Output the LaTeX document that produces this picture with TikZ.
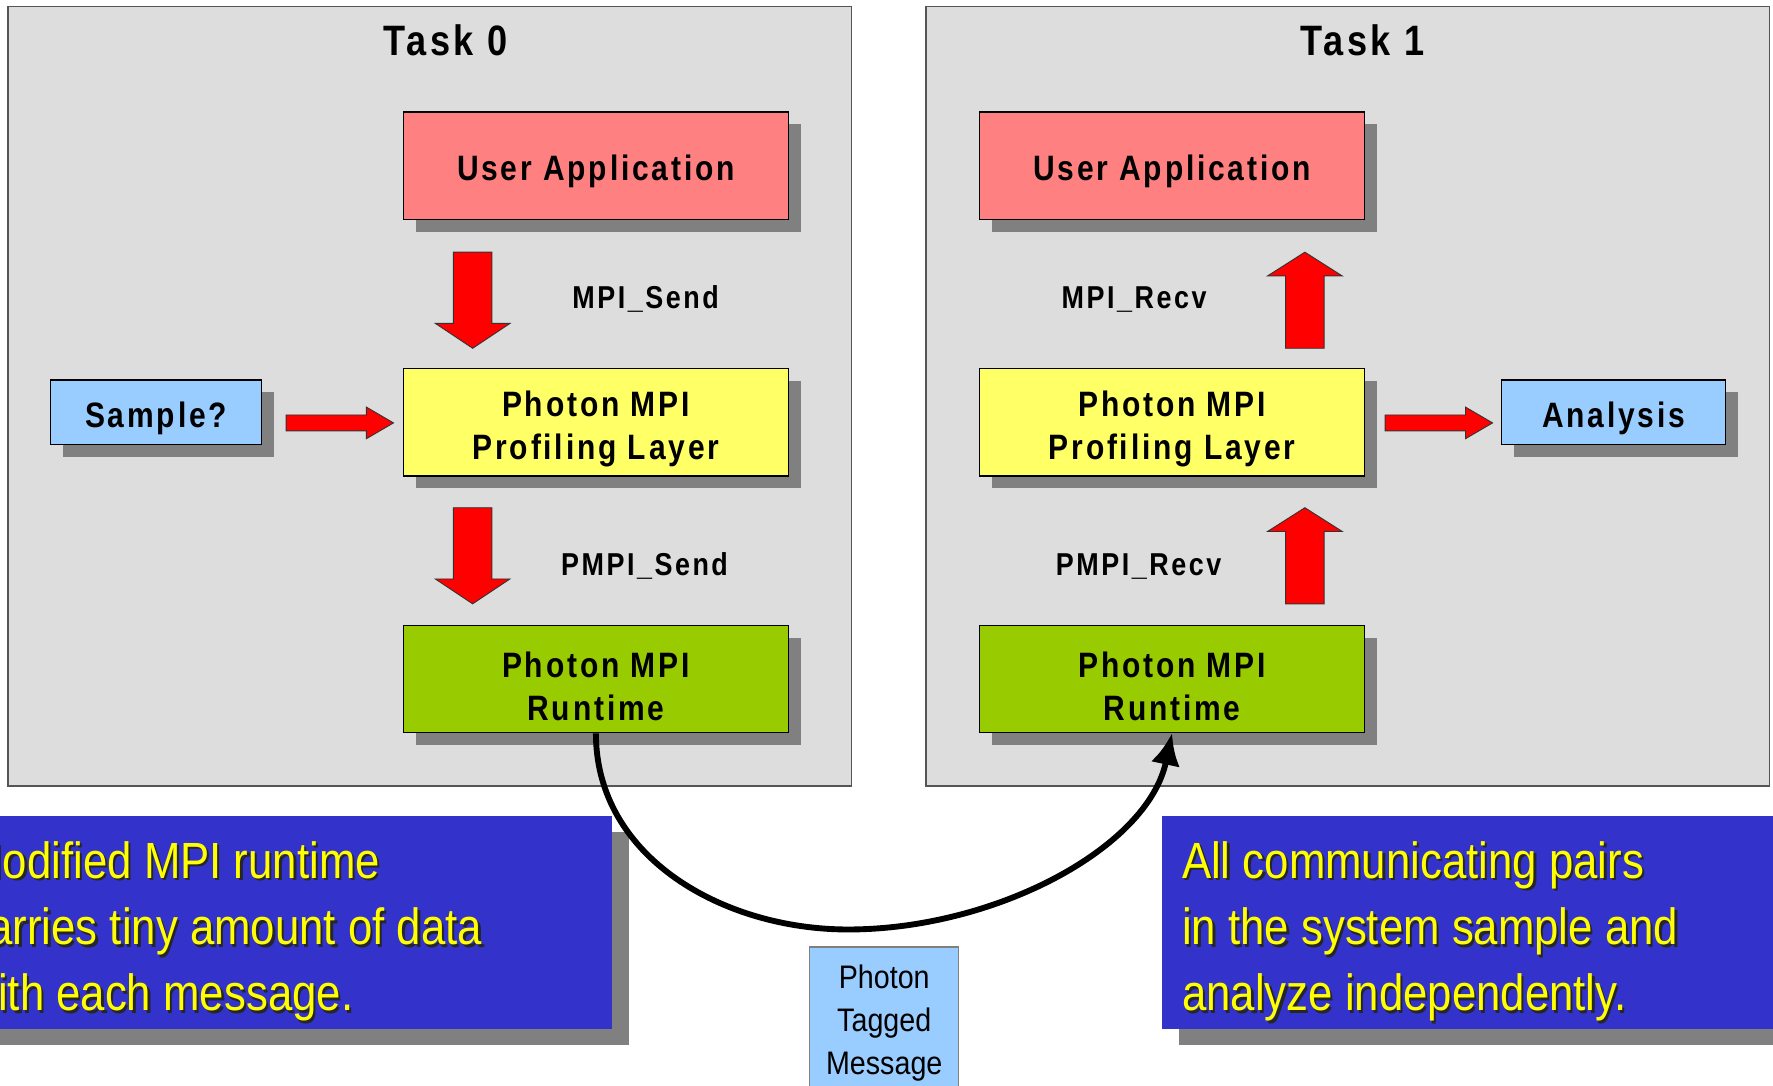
\documentclass[tikz,border=0pt]{standalone}
\usepackage{fontspec}
\setmainfont{Liberation Sans}
\newfontfamily\boldnarrow{Liberation Sans}[FakeStretch=0.85,LetterSpace=8]
\newfontfamily\narrowfont{Liberation Sans}[FakeStretch=0.86]
\newfontfamily\tagfont{Liberation Sans}[FakeStretch=0.88]
\newcommand\firstlinestrut{\rule{0pt}{17.4pt}}
\usetikzlibrary{shadows,arrows.meta}
\definecolor{framegray}{HTML}{DDDDDD}
\definecolor{framebd}{HTML}{555555}
\definecolor{shadowgray}{HTML}{808080}
\definecolor{uared}{HTML}{FF8080}
\definecolor{plyellow}{HTML}{FFFF66}
\definecolor{rtgreen}{HTML}{99CC00}
\definecolor{lightblue}{HTML}{99CCFF}
\definecolor{bluebg}{HTML}{3333CC}
\definecolor{textyellow}{HTML}{FFFF00}
\definecolor{tagbd}{HTML}{7F7F7F}
\tikzset{
  frame/.style={draw=framebd, fill=framegray, line width=0.6pt, minimum width=373pt, minimum height=344.5pt, inner sep=0pt},
  tasklab/.style={font=\boldnarrow\bfseries\fontsize{18.8}{22}\selectfont, anchor=base, inner sep=0pt},
  box/.style={draw=black, line width=0.5pt, minimum width=170pt, minimum height=47.5pt, inner sep=0pt, align=center,
    font=\boldnarrow\bfseries\fontsize{15.6}{19}\selectfont,
    execute at begin node={\rule{0pt}{16.8pt}},
    general shadow={fill=shadowgray, shadow xshift=5.5pt, shadow yshift=-5.5pt}},
  smallbox/.style={box, fill=lightblue, minimum height=28.5pt},
  lab/.style={font=\boldnarrow\bfseries\fontsize{14}{17}\selectfont, anchor=base, inner sep=0pt},
  bluebox/.style={fill=bluebg, minimum height=94pt, inner sep=0pt,
    general shadow={fill=shadowgray, shadow xshift=7.5pt, shadow yshift=-7pt}},
  ytxt/.style={font=\narrowfont\fontsize{22.5}{29.25}\selectfont, align=left, anchor=north west, inner sep=0pt, text=textyellow},
  ytxtsh/.style={ytxt, text=black!85},
  redarrow/.style={fill=red, draw=black!80, line width=0.4pt},
  msg/.style={line width=2.6pt, -{Latex[length=14pt,width=13pt]}},
  tagbox/.style={anchor=north, draw=tagbd, fill=lightblue, line width=0.5pt, minimum width=66pt, inner xsep=0pt, inner ysep=8pt,
    align=center, font=\tagfont\fontsize{14.4}{19}\selectfont},
  pics/arrowdown/.style={code={\filldraw[redarrow] (-17,0) -- (17,0) -- (17,63) -- (33,63) -- (0,85) -- (-33,63) -- (-17,63) -- cycle;}},
  pics/arrowup/.style={code={\filldraw[redarrow] (-17,85) -- (17,85) -- (17,21) -- (33,21) -- (0,0) -- (-33,21) -- (-17,21) -- cycle;}},
  pics/arrowright/.style={code={\filldraw[redarrow] (0,-7) -- (71,-7) -- (71,-14) -- (95,0) -- (71,14) -- (71,7) -- (0,7) -- cycle;}},
}
\begin{document}
\begin{tikzpicture}[x=0.5pt,y=-0.5pt]
\useasboundingbox (0,0) rectangle (1568,960);
\clip (0,0) rectangle (1568,960);
\fill[white] (0,0) rectangle (1568,960);

% frames
\node[frame] (f0) at (380,350.5) {};
\node[frame] (f1) at (1192,350.5) {};
\node[tasklab] (t0) at (394,49.5) {Task 0};
\node[tasklab] (t1) at (1205,49.5) {Task 1};

% Task 0
\node[box, fill=uared] (ua0) at (527,146.5) {User Application};
\node[box, fill=plyellow] (pl0) at (527,373.5) {\firstlinestrut Photon MPI\\Profiling Layer};
\node[box, fill=rtgreen] (rt0) at (527,600.5) {\firstlinestrut Photon MPI\\Runtime};
\node[smallbox, minimum width=93pt] (smp) at (138,364.5) {Sample?};
\pic at (418,223) {arrowdown};
\pic at (418,449) {arrowdown};
\pic at (253,374) {arrowright};
\node[lab] (ms) at (571,273) {MPI\_Send};
\node[lab] (ps) at (570,509) {PMPI\_Send};

% Task 1
\node[box, fill=uared] (ua1) at (1036.5,146.5) {User Application};
\node[box, fill=plyellow] (pl1) at (1036.5,373.5) {\firstlinestrut Photon MPI\\Profiling Layer};
\node[box, fill=rtgreen] (rt1) at (1036.5,600.5) {\firstlinestrut Photon MPI\\Runtime};
\node[smallbox, minimum width=99pt] (ana) at (1427,364.5) {Analysis};
\pic at (1154,223) {arrowup};
\pic at (1154,449) {arrowup};
\pic at (1225,374) {arrowright};
\node[lab] (mr) at (1003,273) {MPI\_Recv};
\node[lab] (pr) at (1007,509) {PMPI\_Recv};

% blue notes
\node[bluebox, minimum width=296.5pt] (bl) at (244.5,816) {};
\node[bluebox, minimum width=296pt] (br) at (1324,816) {};
\node[ytxtsh] (lts) at (-28,746) {Modified MPI runtime\\carries tiny amount of data\\with each message.};
\node[ytxt] (lt) at (-30,744) {Modified MPI runtime\\carries tiny amount of data\\with each message.};
\node[ytxtsh] (rts) at (1047,746) {All communicating pairs\\in the system sample and\\analyze independently.};
\node[ytxt] (rtx) at (1045,744) {All communicating pairs\\in the system sample and\\analyze independently.};

% message curve
\coordinate (mid) at (750,822);
\draw[msg] (rt0.south) .. controls +(0,110) and (640,822) .. (mid) .. controls (880,822) and (1015,750) .. (rt1.south);

\node[tagbox] (tag) at (782,837) {Photon\\Tagged\\Message\rule[-25pt]{0pt}{0pt}};
\end{tikzpicture}
\end{document}
